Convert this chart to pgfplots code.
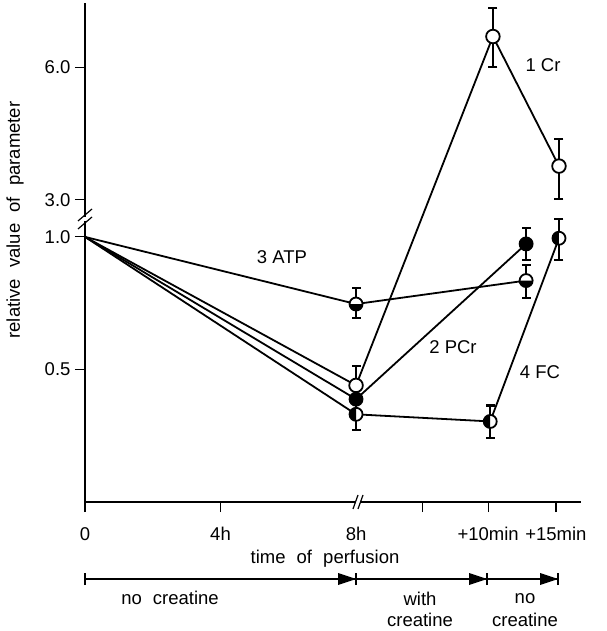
\documentclass[border=0pt]{standalone}
\usepackage{fontspec}
\setmainfont{Liberation Sans}
\usepackage{pgfplots}
\usepackage{pgfplotstable}
\pgfplotsset{compat=1.18}
\usetikzlibrary{arrows.meta}

\pgfdeclareplotmark{halfbottom}{%
  \pgfpathcircle{\pgfpointorigin}{\pgfplotmarksize}%
  \pgfsetfillcolor{white}\pgfusepath{fill}%
  \pgfpathmoveto{\pgfpoint{\pgfplotmarksize}{0pt}}%
  \pgfpatharc{0}{-180}{\pgfplotmarksize}%
  \pgfpathclose
  \pgfsetfillcolor{black}\pgfusepath{fill}%
  \pgfpathcircle{\pgfpointorigin}{\pgfplotmarksize}%
  \pgfusepath{stroke}%
}
\pgfdeclareplotmark{halfleft}{%
  \pgfpathcircle{\pgfpointorigin}{\pgfplotmarksize}%
  \pgfsetfillcolor{white}\pgfusepath{fill}%
  \pgfpathmoveto{\pgfpoint{0pt}{\pgfplotmarksize}}%
  \pgfpatharc{90}{270}{\pgfplotmarksize}%
  \pgfpathclose
  \pgfsetfillcolor{black}\pgfusepath{fill}%
  \pgfpathcircle{\pgfpointorigin}{\pgfplotmarksize}%
  \pgfusepath{stroke}%
}

% x: hours before the break (0..8); after it 8 + min*0.395 (+5min=9.95, +10min=11.9, +15min=13.9)
\pgfplotstableread{
x y
0 1.0
8 0.460
12.04 7.05
13.99 3.58
}\Cr
\pgfplotstableread{
x y
0 1.0
8 0.428
13.02 0.964
}\PCr
\pgfplotstableread{
x y
0 1.0
8 0.704
13.02 0.796
}\ATP
\pgfplotstableread{
x y
0 1.0
8 0.3955
11.96 0.381
13.99 0.993
}\FC

\newcommand{\ebar}[3]{\addplot[black, line width=2.1pt, mark=-, mark size=4.5pt, mark options={line width=2.1pt}, forget plot] coordinates {(#1,#2) (#1,#3)};}
\def\s{\hspace{0.6em}}

\begin{document}
\begin{tikzpicture}[font=\fontsize{18.5}{22}\selectfont]
\useasboundingbox (-85pt,-129pt) rectangle (521pt,502pt);
\begin{axis}[
  at={(0pt,0pt)}, anchor=south west,
  scale only axis, width=496pt, height=499pt,
  xmin=0, xmax=14.64, ymin=0.25, ymax=8.4,
  y coord trafo/.code={\pgfmathparse{#1>2 ? ln(#1)-0.905 : ln(#1)}},
  axis x line*=bottom, axis y line*=left,
  axis line style={line width=1.2pt},
  tick align=outside, major tick length=10pt,
  every tick/.style={black, line width=1.2pt},
  xtick={0,4,9.95,11.9,13.9},
  xticklabels={0,4h,,+10min,+15min},
  extra x ticks={8}, extra x tick labels={8h},
  extra x tick style={major tick style={draw=none}},
  ytick={0.5,1,3,6}, yticklabels={0.5,1.0,3.0,6.0},
  ticklabel style={font=\fontsize{18.5}{22}\selectfont},
  xticklabel style={yshift=-12pt},
  yticklabel style={xshift=-1pt},
  clip=false,
]
\ebar{8}{0.417}{0.508}
\ebar{12.04}{6.0}{8.19}
\ebar{13.99}{3.02}{4.13}
\ebar{13.02}{0.887}{1.048}
\ebar{8}{0.655}{0.765}
\ebar{13.02}{0.727}{0.864}
\ebar{8}{0.364}{0.430}
\ebar{11.96}{0.349}{0.414}
\ebar{13.99}{0.887}{1.097}

\addplot[black, line width=1.8pt, no markers] table {\Cr};
\addplot[black, line width=1.8pt, no markers] table {\PCr};
\addplot[black, line width=1.8pt, no markers] table {\ATP};
\addplot[black, line width=1.8pt, no markers] table {\FC};

\addplot[only marks, skip coords between index={0}{1}, mark=*, mark size=6.8pt,
  mark options={fill=white, draw=black, line width=1.8pt}] table {\Cr};
\addplot[only marks, skip coords between index={0}{1}, mark=*, mark size=6.5pt,
  mark options={fill=black, draw=black, line width=1.8pt}] table {\PCr};
\addplot[only marks, skip coords between index={0}{1}, mark=halfbottom, mark size=6.5pt,
  mark options={draw=black, line width=1.8pt}] table {\ATP};
\addplot[only marks, skip coords between index={0}{1}, mark=halfleft, mark size=6.5pt,
  mark options={draw=black, line width=1.8pt}] table {\FC};
\end{axis}

% axis breaks
\fill[white] (-4pt,281pt) rectangle (4pt,285pt);
\draw[line width=1.2pt] (-7pt,273pt) -- (7pt,285pt);
\draw[line width=1.2pt] (-7pt,281pt) -- (7pt,293pt);
\fill[white] (271pt,-3pt) rectangle (275pt,3pt);
\draw[line width=1.2pt] (268pt,-7pt) -- (273pt,7pt);
\draw[line width=1.2pt] (273pt,-7pt) -- (278pt,7pt);

% labels
\node[rotate=90] at (-70pt,282pt) {relative\s value\s of\s parameter};
\node at (458pt,437pt) {1 Cr};
\node at (197pt,245pt) {3 ATP};
\node at (368pt,155pt) {2 PCr};
\node at (455pt,130pt) {4 FC};
\node at (240pt,-57pt) {time\s of\s perfusion};

% time-line
\draw[line width=1.2pt] (0pt,-77pt) -- (473pt,-77pt);
\foreach \xx in {0,271,402,473} {\draw[line width=1.2pt] (\xx pt,-83pt) -- (\xx pt,-71pt);}
\foreach \xx in {271,402,473} {\fill (\xx pt,-77pt) -- ++(-18pt,6pt) -- ++(0pt,-12pt) -- cycle;}
\node at (85pt,-96pt) {no\s creatine};
\node at (335pt,-97pt) {with};
\node at (335pt,-118pt) {creatine};
\node at (440pt,-97pt) {no};
\node at (440pt,-118pt) {creatine};
\end{tikzpicture}
\end{document}
